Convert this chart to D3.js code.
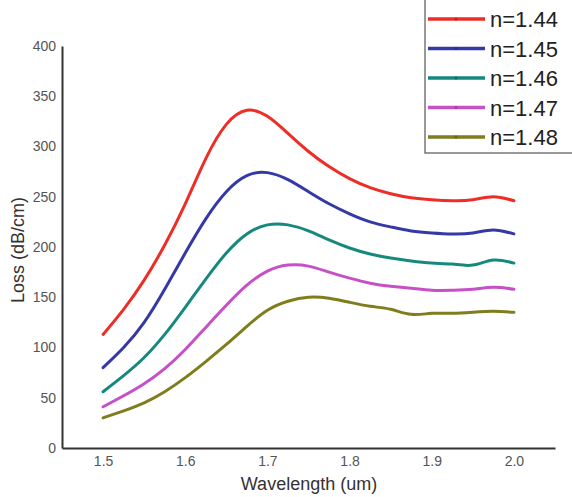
<!DOCTYPE html>
<html>
<head>
<meta charset="utf-8">
<script src="https://cdn.jsdelivr.net/npm/d3@7"></script>
<style>
  body { margin: 0; background: #fff; }
  svg { display: block; font-family: "Liberation Sans", Arial, sans-serif; }
</style>
</head>
<body>
<div id="chart"></div>
<script>
(function() {
  'use strict';
  var WIDTH = 572;
  var HEIGHT = 497;

  var wavelengths = [1.50, 1.525, 1.55, 1.575, 1.60, 1.625, 1.65, 1.675, 1.70, 1.725, 1.75,
    1.775, 1.80, 1.825, 1.85, 1.875, 1.90, 1.925, 1.95, 1.975, 2.00];
  var seriesNames = ['n=1.44', 'n=1.45', 'n=1.46', 'n=1.47', 'n=1.48'];
  var seriesColors = ['#ee2e26', '#3439a6', '#16897f', '#c650c6', '#7f7d1c'];
  var loss144 = [113, 138, 167, 202, 243, 288, 322, 336, 330, 313, 295, 280, 268, 259, 253, 249, 247, 246, 247, 250, 246];
  var loss145 = [80, 100, 125, 158, 194, 228, 255, 271, 274, 267, 255, 243, 233, 225, 220, 216, 214, 213, 214, 217, 213];
  var loss146 = [56, 72, 90, 113, 140, 168, 194, 213, 222, 222, 216, 207, 199, 193, 189, 186, 184, 183, 182, 187, 184];
  var loss147 = [41, 52, 64, 79, 98, 120, 142, 162, 176, 182, 181, 175, 169, 164, 161, 159, 157, 157, 158, 160, 158];
  var loss148 = [30, 37, 45, 56, 70, 86, 103, 121, 137, 146, 150, 149, 145, 141, 138, 133, 134, 134, 135, 136, 135];
  var xTicks = [1.5, 1.6, 1.7, 1.8, 1.9, 2.0];
  var yTicks = [0, 50, 100, 150, 200, 250, 300, 350, 400];

  var allLoss = [loss144, loss145, loss146, loss147, loss148];

  var svg = d3.select('#chart').append('svg')
    .attr('width', WIDTH)
    .attr('height', HEIGHT);

  var x = d3.scaleLinear().domain([1.45, 2.05]).range([62, 555]);
  var y = d3.scaleLinear().domain([0, 400]).range([448, 46]);

  // axes (no tick marks, only the lines and labels)
  var xAxis = svg.append('g')
    .attr('transform', 'translate(0,448)')
    .call(d3.axisBottom(x).tickValues(xTicks).tickFormat(d3.format('.1f')).tickSize(0).tickPadding(8));
  var yAxis = svg.append('g')
    .attr('transform', 'translate(62,0)')
    .call(d3.axisLeft(y).tickValues(yTicks).tickSize(0).tickPadding(6));

  [xAxis, yAxis].forEach(function(a) {
    a.select('.domain').attr('stroke', '#333').attr('stroke-width', 2);
    a.selectAll('text').attr('fill', '#555').style('font-size', '14px');
  });

  var line = d3.line()
    .x(function(d, i) { return x(wavelengths[i]); })
    .y(function(d) { return y(d); })
    .curve(d3.curveNatural);

  svg.selectAll('path.series')
    .data(allLoss)
    .enter().append('path')
    .attr('class', 'series')
    .attr('fill', 'none')
    .attr('stroke', function(d, i) { return seriesColors[i]; })
    .attr('stroke-width', 3)
    .attr('stroke-linecap', 'round')
    .attr('d', line);

  // axis titles
  svg.append('text')
    .attr('x', 309)
    .attr('y', 490)
    .attr('text-anchor', 'middle')
    .attr('fill', '#333')
    .style('font-size', '18px')
    .text('Wavelength (um)');
  svg.append('text')
    .attr('transform', 'translate(24,250) rotate(-90)')
    .attr('text-anchor', 'middle')
    .attr('fill', '#333')
    .style('font-size', '18px')
    .text('Loss (dB/cm)');

  // legend box, clipped by the picture edge on the top and right
  var legend = svg.append('g');
  legend.append('rect')
    .attr('x', 425)
    .attr('y', -5)
    .attr('width', 160)
    .attr('height', 158)
    .attr('fill', '#fff')
    .attr('stroke', '#555')
    .attr('stroke-width', 1.2);

  var rows = legend.selectAll('g.row')
    .data(seriesNames)
    .enter().append('g')
    .attr('class', 'row')
    .attr('transform', function(d, i) { return 'translate(0,' + (19 + i * 29.5) + ')'; });
  rows.append('line')
    .attr('x1', 428).attr('x2', 485)
    .attr('stroke', function(d, i) { return seriesColors[i]; })
    .attr('stroke-width', 3.5);
  rows.append('circle')
    .attr('cx', 456).attr('r', 1.6)
    .attr('fill', function(d, i) { return d3.color(seriesColors[i]).darker(0.6); });
  rows.append('text')
    .attr('x', 490)
    .attr('y', 8)
    .attr('fill', '#222')
    .style('font-size', '22px')
    .text(function(d) { return d; });
})();
</script>
</body>
</html>
